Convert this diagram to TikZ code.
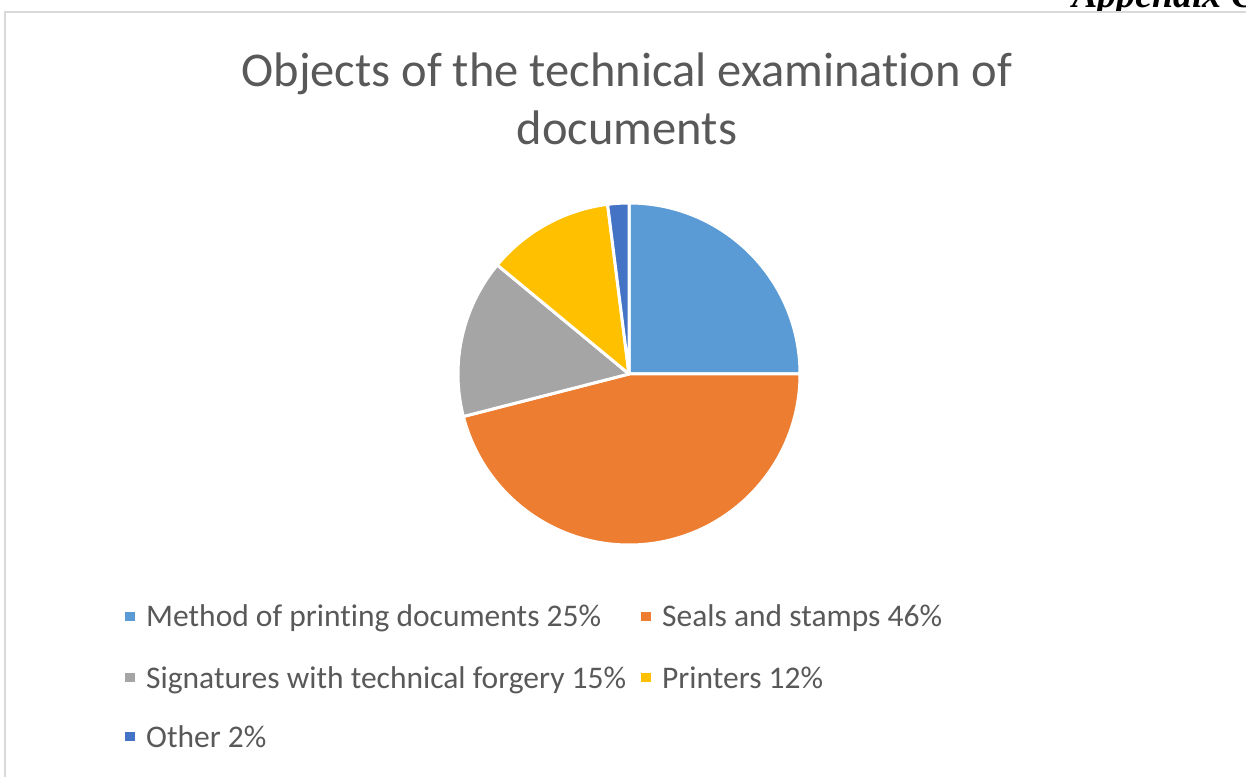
\documentclass[tikz,border=0pt]{standalone}
\usepackage{fontspec}
\setmainfont[Ligatures={NoCommon}]{Carlito}
\newfontfamily\appxfont{Liberation Serif}
\usetikzlibrary{positioning}
\definecolor{chBlue}{RGB}{91,155,213}
\definecolor{chOrange}{RGB}{237,125,49}
\definecolor{chGray}{RGB}{165,165,165}
\definecolor{chGold}{RGB}{255,192,0}
\definecolor{chNavy}{RGB}{68,114,196}
\definecolor{chText}{RGB}{89,89,89}
\definecolor{chFrame}{RGB}{217,217,217}
\tikzset{
  legtext/.style={anchor=base west,inner sep=0pt,text=chText,font=\fontsize{31.5}{36}\selectfont},
  legsq/.style={minimum size=9.5pt,inner sep=0pt,outer sep=0pt}
}
% one legend entry: square colour, x of square, baseline, node name, text
\newcommand{\legentry}[5]{%
  \node[legsq,fill=#1] (#4sq) at (#2+4.75,#3+10.5) {};
  \node[legtext] (#4) at (#2+21,#3) {#5};
}

\begin{document}
\begin{tikzpicture}[x=1pt,y=1pt]
  \useasboundingbox (0,0) rectangle (1246,776);
  \clip (0,0) rectangle (1246,776);
  % page heading behind the chart
  \node[anchor=base east,inner sep=0pt,font=\appxfont\bfseries\itshape\fontsize{38}{40}\selectfont] (appx) at (1257,768) {Appendix C};
  % chart area
  \filldraw[fill=white,draw=chFrame,line width=2pt] (5,764) rectangle (1256,-10);
  \node[anchor=base,inner sep=0pt,text=chText,font=\fontsize{48.5}{58}\selectfont] (title1) at (627,689) {Objects of the technical examination of};
  \node[anchor=base,inner sep=0pt,text=chText,font=\fontsize{48.5}{58}\selectfont] (title2) at (627,631) {documents};
  % pie, clockwise from twelve o'clock
  \coordinate (ctr) at (629,402);
  \foreach \a/\b/\c in {90/0/chBlue,0/-165.6/chOrange,-165.6/-219.6/chGray,-219.6/-262.8/chGold,-262.8/-270/chNavy}
    \filldraw[fill=\c,draw=white,line width=3pt,line join=round] (ctr) -- ++(\a:171) arc[start angle=\a,end angle=\b,radius=171] -- cycle;
  % legend
  \legentry{chBlue}{125}{149}{lgprint}{Method of printing documents 25\%}
  \legentry{chOrange}{641}{149}{lgseal}{Seals and stamps 46\%}
  \legentry{chGray}{125}{88}{lgsign}{Signatures with technical forgery 15\%}
  \legentry{chGold}{641}{88}{lgprnt}{Printers 12\%}
  \legentry{chNavy}{125}{29}{lgother}{Other 2\%}
\end{tikzpicture}
\end{document}
